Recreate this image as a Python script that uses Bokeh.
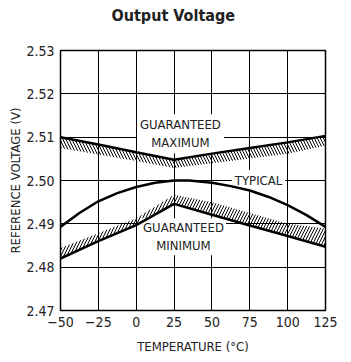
from bokeh.plotting import figure
from bokeh.models import Range1d, FixedTicker, Label
from bokeh.embed import file_html
from bokeh.resources import INLINE

NARROW = "'DejaVu Sans Condensed', 'DejaVu Sans', sans-serif"

# ---- data ----
temp = [-50, -25, 0, 25, 50, 75, 100, 125]
guar_max = [2.5100, 2.5083, 2.5065, 2.5048, 2.5062, 2.5075, 2.5088, 2.5103]
guar_max_band = [2.5075, 2.5060, 2.5045, 2.5029, 2.5040, 2.5051, 2.5062, 2.5080]
guar_min = [2.4820, 2.4860, 2.4897, 2.4946, 2.4921, 2.4896, 2.4872, 2.4847]
guar_min_band = [2.4844, 2.4878, 2.4913, 2.4967, 2.4950, 2.4925, 2.4900, 2.4889]

typ_temp = [-50, -37.5, -25, -12.5, 0, 12.5, 25, 35, 50, 62.5, 75, 87.5, 100, 112.5, 125]
typ_v = [2.4893, 2.4925, 2.4952, 2.4971, 2.4985, 2.4995, 2.5000, 2.5000, 2.4995,
         2.4987, 2.4977, 2.4962, 2.4943, 2.4920, 2.4893]

x_ticks = [-50, -25, 0, 25, 50, 75, 100, 125]
x_tick_labels = ["\u221250", "\u221225", "0", "25", "50", "75", "100", "125"]
y_ticks = [2.47, 2.48, 2.49, 2.50, 2.51, 2.52, 2.53]
y_tick_labels = ["2.47", "2.48", "2.49", "2.50", "2.51", "2.52", "2.53"]

p = figure(width=351, height=362, output_backend="svg", toolbar_location=None,
           x_range=Range1d(-50, 125), y_range=Range1d(2.47, 2.53),
           min_border_left=60, min_border_right=26, min_border_top=50,
           min_border_bottom=52, background_fill_color="white",
           border_fill_color="white", title="Output Voltage\n\u00a0")

p.title.align = "left"
p.title.offset = 51
p.title.vertical_align = "top"
p.title.standoff = 10
p.title.text_font = NARROW
p.title.text_font_size = "16px"
p.title.text_font_style = "bold"
p.title.text_color = "#222222"

p.outline_line_color = "black"
p.outline_line_width = 1.5
p.grid.grid_line_color = "black"
p.grid.grid_line_width = 1
p.xaxis.ticker = FixedTicker(ticks=x_ticks)
p.yaxis.ticker = FixedTicker(ticks=y_ticks)
p.xaxis.major_label_overrides = {t: l for t, l in zip(x_ticks, x_tick_labels)}
p.yaxis.major_label_overrides = {t: l for t, l in zip(y_ticks, y_tick_labels)}

for ax in (p.xaxis, p.yaxis):
    ax.axis_line_color = None
    ax.major_tick_line_color = None
    ax.minor_tick_line_color = None
    ax.major_tick_out = 0
    ax.major_tick_in = 0
    ax.major_label_text_font = NARROW
    ax.major_label_text_font_size = "14px"
    ax.major_label_text_color = "#222222"
    ax.axis_label_text_font = NARROW
    ax.axis_label_text_font_size = "13px"
    ax.axis_label_text_font_style = "normal"
    ax.axis_label_text_color = "#222222"

p.xaxis.axis_label = "TEMPERATURE (\u00b0C)"
p.yaxis.axis_label = "REFERENCE VOLTAGE (V)"
p.xaxis.major_label_standoff = 6
p.yaxis.major_label_standoff = 6
p.xaxis.axis_label_standoff = 9
p.yaxis.axis_label_standoff = 0

# hatched bands
p.varea(x=temp, y1=guar_max_band, y2=guar_max, fill_alpha=0,
        hatch_pattern="\\", hatch_scale=6, hatch_weight=1, hatch_color="black")
p.varea(x=temp, y1=guar_min, y2=guar_min_band, fill_alpha=0,
        hatch_pattern="/", hatch_scale=6, hatch_weight=1, hatch_color="black")

# curves (drawn above the label boxes)
p.line(temp, guar_max, line_color="black", line_width=2.5, level="overlay")
p.line(temp, guar_min, line_color="black", line_width=2.5, level="overlay")
p.line(typ_temp, typ_v, line_color="black", line_width=2.5, level="overlay")

def lab(x, y, text, pad):
    p.add_layout(Label(x=x, y=y, text=text, text_align="center", text_baseline="middle",
                       text_font=NARROW, text_font_size="13px", text_color="#222222",
                       text_line_height=1.2, background_fill_color="white",
                       padding=pad))

lab(29.2, 2.5108, "GUARANTEED\nMAXIMUM", 3)
lab(31.2, 2.4870, "GUARANTEED\nMINIMUM", 2)
lab(80.8, 2.5000, "TYPICAL", 3)

open("out.html", "w").write(file_html(p, INLINE))
